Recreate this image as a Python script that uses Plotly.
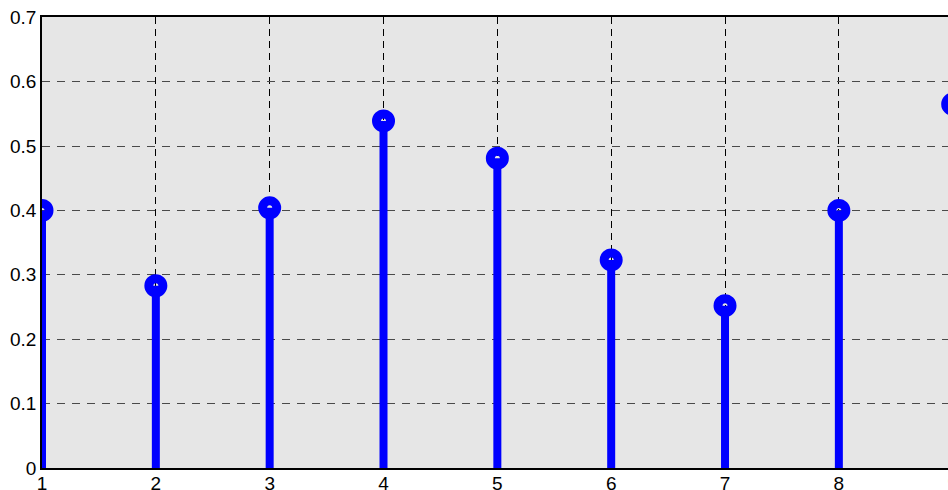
import plotly.graph_objects as go

x_vals = [1, 2, 3, 4, 5, 6, 7, 8, 9]
y_vals = [0.400, 0.283, 0.404, 0.539, 0.481, 0.323, 0.252, 0.400, 0.565]
x_ticks = [1, 2, 3, 4, 5, 6, 7, 8, 9]
y_ticks = [0, 0.1, 0.2, 0.3, 0.4, 0.5, 0.6, 0.7]
y_tick_text = ["0", "0.1", "0.2", "0.3", "0.4", "0.5", "0.6", "0.7"]

stem_x, stem_y = [], []
for xv, yv in zip(x_vals, y_vals):
    stem_x += [xv, xv, None]
    stem_y += [0, yv, None]

BLUE = "#0000ff"
fig = go.Figure()
fig.add_trace(go.Scatter(x=x_vals, y=y_vals, mode="markers",
                         marker=dict(symbol="circle-open", size=14, color=BLUE,
                                     line=dict(color=BLUE, width=9))))
fig.add_trace(go.Scatter(x=stem_x, y=stem_y, mode="lines",
                         line=dict(color=BLUE, width=8), hoverinfo="skip"))

font = dict(family="Liberation Sans, Arial, sans-serif", size=19, color="black")
# plot area deliberately wider than the window: the reference is cropped at the right
fig.update_layout(
    width=1021, height=490,
    margin=dict(l=42, r=0, t=17, b=22),
    paper_bgcolor="white", plot_bgcolor="#e6e6e6",
    showlegend=False, font=font,
    xaxis=dict(range=[1, 9.6], tickvals=x_ticks, ticktext=[str(t) for t in x_ticks],
               showgrid=True, gridcolor="black", griddash="7px,5px", gridwidth=1,
               showline=True, linecolor="black", linewidth=1.5, mirror=True,
               zeroline=False, ticks="", ticklen=0, tickfont=font, automargin=False,
               ticklabelstandoff=-3),
    yaxis=dict(range=[0, 0.7003], tickvals=y_ticks, ticktext=y_tick_text,
               showgrid=True, gridcolor="#4a4a4a", griddash="8px,7px", gridwidth=1,
               showline=True, linecolor="black", linewidth=1.5, mirror=True,
               zeroline=False, ticks="", ticklen=0, tickfont=font, automargin=False),
)
fig.write_html("out.html", config={"displayModeBar": False},
               post_script="document.body.style.margin='0';"
                           "document.body.style.overflow='hidden';"
                           "document.documentElement.style.overflow='hidden';")
